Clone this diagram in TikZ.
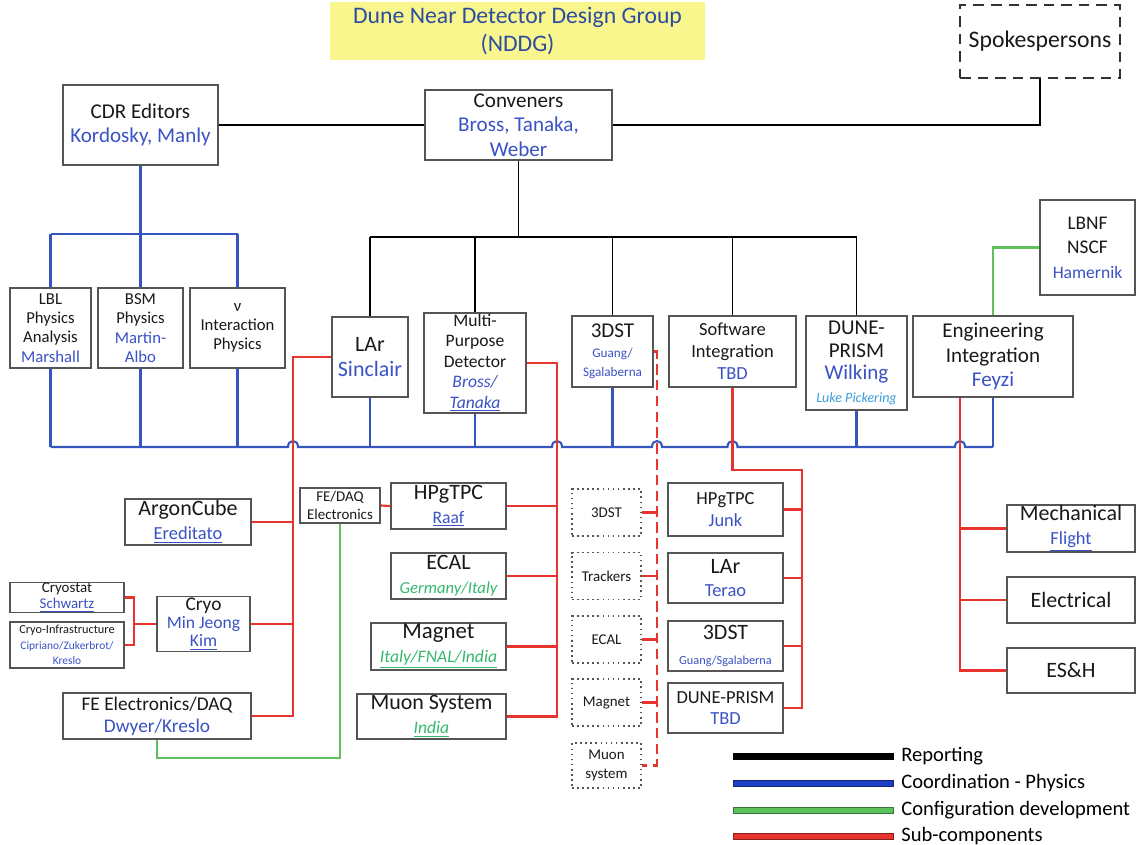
\documentclass[tikz,border=0pt]{standalone}
\usepackage{fontspec}
\setmainfont{Carlito}
\usepackage{tikz}
\definecolor{LineBlue}{HTML}{3556BE}
\definecolor{LineRed}{HTML}{E8342F}
\definecolor{LineGreen}{HTML}{5DC15D}
\definecolor{NameBlue}{HTML}{3A52C4}
\definecolor{NameGreen}{HTML}{35B86E}
\definecolor{PickBlue}{HTML}{3A9FDD}
\definecolor{TitleBlue}{HTML}{2C4C9E}
\definecolor{TitleYellow}{HTML}{F9F68D}
\definecolor{BoxGray}{HTML}{555555}
\definecolor{LegBlue}{HTML}{1C3FC4}
\newcommand{\bname}[1]{\textcolor{NameBlue}{#1}}
\newcommand{\gname}[1]{\textcolor{NameGreen}{\itshape #1}}
\newcommand{\setfs}[2]{\fontsize{#1}{#2}\selectfont}

\begin{document}
\begin{tikzpicture}[x=0.02cm, y=-0.02cm,
  box/.style={draw=BoxGray, line width=0.9pt, fill=white, align=center, inner sep=0.5pt, text=black!90},
  dotbox/.style={box, dotted, line width=0.8pt},
  sz/.style 2 args={minimum width=#1cm, minimum height=#2cm},
  reportline/.style={line width=1.1pt, black},
  physline/.style={line width=1.2pt, LineBlue},
  subline/.style={line width=1.2pt, LineRed},
  redDash/.style={line width=1.5pt, dash pattern=on 6pt off 3pt},
  confline/.style={line width=1.2pt, LineGreen}]
  \useasboundingbox (0,0) rectangle (1137,845);

  % title and top level
  \node[fill=TitleYellow, text=TitleBlue, minimum width=7.5cm, minimum height=1.04cm, align=center, font=\setfs{13.5}{15.5}] (title) at (517.5,31) {Dune Near Detector Design Group\\(NDDG)};
  \node[box, dash pattern=on 6pt off 4pt, draw=black!80, sz={3.2}{1.46}, font=\setfs{13.5}{16}] (spokes) at (1040,41.5) {Spokespersons};
  \node[box, sz={3.1}{1.6}, font=\setfs{12}{13.5}] (cdr) at (140.5,125) {CDR Editors\\\bname{Kordosky, Manly}};
  \node[box, sz={3.74}{1.4}, font=\setfs{12}{14}] (conv) at (518.5,125) {Conveners\\\bname{Bross, Tanaka,}\\\bname{Weber}};
  \node[box, sz={1.9}{1.9}, font=\setfs{11}{14}] (lbnf) at (1087.5,247.5) {LBNF\\NSCF\\\bname{\setfs{10}{14}Hamernik}};

  % working groups
  \node[box, sz={1.62}{1.6}, font=\setfs{9.5}{11}] (lbl) at (50.5,328) {LBL\\Physics\\Analysis\\\bname{Marshall}};
  \node[box, sz={1.7}{1.6}, font=\setfs{9.5}{11}] (bsm) at (140.5,328) {BSM\\Physics\\\bname{Martin-}\\\bname{Albo}};
  \node[box, sz={1.9}{1.6}, font=\setfs{9.5}{11}] (nu) at (237.5,328) {ν\\Interaction\\Physics};
  \node[box, sz={1.52}{1.6}, font=\setfs{12.5}{14}] (lar) at (370,357) {LAr\\\bname{Sinclair}};
  \node[box, sz={2.04}{2.0}, font=\setfs{10}{11.6}] (mpd) at (475,363) {Multi-\\Purpose\\Detector\\\bname{\itshape Bross/}\\\bname{\itshape\underline{Tanaka}}};
  \node[box, sz={1.62}{1.42}, font=\setfs{7.5}{11}] (dst) at (612.5,351.5) {{\setfs{12}{14}3DST}\\\bname{Guang/}\\\bname{Sgalaberna}};
  \node[box, sz={2.54}{1.42}, font=\setfs{10.5}{12.5}] (sw) at (732.5,351.5) {Software\\Integration\\\bname{TBD}};
  \node[box, sz={2.02}{1.88}, font=\setfs{12}{13}] (prism) at (856.5,363) {DUNE-\\PRISM\\\bname{Wilking}\\\textcolor{PickBlue}{\setfs{8}{10}\itshape Luke Pickering}};
  \node[box, sz={3.2}{1.62}, font=\setfs{12}{14}] (eng) at (993,356.5) {Engineering\\Integration\\\bname{Feyzi}};

  % LAr sub-components
  \node[box, sz={2.52}{0.92}, font=\setfs{12.5}{13.5}] (argon) at (188,522) {ArgonCube\\\bname{\setfs{10.5}{13}\underline{Ereditato}}};
  \node[box, sz={1.6}{0.7}, font=\setfs{8.5}{10}] (fedaq) at (340,505.5) {FE/DAQ\\Electronics};
  \node[box, sz={2.28}{0.58}, inner sep=0pt, font=\setfs{8.5}{9.5}] (cstat) at (67,597.5) {Cryostat\\\bname{\underline{Schwartz}}};
  \node[box, sz={2.28}{0.92}, font=\setfs{7}{9}] (cinfra) at (67,645) {Cryo-Infrastructure\\\bname{\setfs{6.5}{9}Cipriano/Zukerbrot/}\\\bname{\setfs{6.5}{9}Kreslo}};
  \node[box, sz={1.86}{1.04}, font=\setfs{10}{10.5}] (cryo) at (203.5,624) {{\setfs{11}{12}Cryo}\\\bname{Min Jeong}\\\bname{\underline{Kim}}};
  \node[box, sz={3.76}{0.92}, font=\setfs{11}{12.5}] (fe) at (157,716) {FE Electronics/DAQ\\\bname{Dwyer/Kreslo}};

  % MPD sub-components
  \node[box, sz={2.3}{0.92}, font=\setfs{12.5}{13.5}] (hpg) at (448.5,506) {HPgTPC\\\bname{\setfs{10}{13}\underline{Raaf}}};
  \node[box, sz={2.3}{0.92}, font=\setfs{12.5}{13.5}] (ecal) at (448.5,576) {ECAL\\\gname{\setfs{9.5}{13}Germany/Italy}};
  \node[box, sz={2.7}{0.94}, font=\setfs{13}{13.5}] (magnet) at (438.5,646.5) {Magnet\\\gname{\setfs{10}{13}\underline{Italy/FNAL/India}}};
  \node[box, sz={2.98}{0.9}, font=\setfs{12.5}{13.5}] (muon) at (431.5,716.5) {Muon System\\\gname{\setfs{10}{13}\underline{India}}};

  % 3DST sub-components
  \foreach \n/\y/\t in {d3dst/512.5/3DST, dtrk/576/Trackers, decal/639.5/ECAL, dmag/702.5/Magnet}
    \node[dotbox, sz={1.38}{0.94}, font=\setfs{8.5}{11}] (\n) at (606.5,\y) {\t};
  \node[dotbox, sz={1.38}{0.9}, font=\setfs{8.5}{11}] (dmuon) at (606.5,765.5) {Muon\\system};

  % software sub-components
  \node[box, sz={2.3}{1.06}, font=\setfs{10.5}{12.5}] (shpg) at (725.5,509.5) {HPgTPC\\\bname{Junk}};
  \node[box, sz={2.3}{1.0}, font=\setfs{12.5}{13.5}] (slar) at (725.5,578) {LAr\\\bname{\setfs{10.5}{13}Terao}};
  \node[box, sz={2.3}{1.0}, font=\setfs{12.5}{14}] (sdst) at (725.5,646) {3DST\\\bname{\setfs{7}{14}Guang/Sgalaberna}};
  \node[box, sz={2.3}{1.0}, font=\setfs{10.5}{12.5}] (sprism) at (725.5,708) {DUNE-PRISM\\\bname{TBD}};

  % engineering sub-components
  \node[box, sz={2.56}{0.94}, font=\setfs{12.5}{13.5}] (mech) at (1071,528.5) {Mechanical\\\bname{\setfs{10.5}{13}\underline{Flight}}};
  \node[box, sz={2.56}{0.92}, font=\setfs{12.5}{14}] (elec) at (1071,600) {Electrical};
  \node[box, sz={2.56}{0.9}, font=\setfs{12.5}{14}] (esh) at (1071,670.5) {ES\&H};

  % reporting
  \coordinate (rbus) at (0,237);
  \draw[reportline] (cdr.east) -- (conv.west);
  \draw[reportline] (conv.east) -| (spokes.south);
  \draw[reportline] (conv.south) -- (conv.south |- rbus);
  \draw[reportline] (lar.north |- rbus) -- (prism.north |- rbus);
  \foreach \n in {lar,mpd,dst,sw,prism}
    \draw[reportline] (\n.north) -- (\n.north |- rbus);

  % coordination - physics
  \coordinate (cbus) at (0,234);
  \coordinate (bbus) at (0,447);
  \draw[physline] (cdr.south) -- (cdr.south |- cbus);
  \draw[physline] (lbl.north |- cbus) -- (nu.north |- cbus);
  \foreach \n in {lbl,bsm,nu}
    \draw[physline] (\n.north) -- (\n.north |- cbus);
  \foreach \n in {lbl,bsm,nu,lar,mpd,dst,prism,eng}
    \draw[physline] (\n.south) -- (\n.south |- bbus);
  % hops where the red lines pass
  \draw[physline] (lbl.south |- bbus)
    \foreach \h in {293,557,657,732.5,960}{ -- (\h-5,447) .. controls (\h-5,439) and (\h+5,439) .. (\h+5,447)}
    -- (eng.south |- bbus);

  % configuration development
  \coordinate (gB) at (0,758);
  \draw[confline] (lbnf.west) -| (eng.north);
  \draw[confline] (fedaq.south) -- (fedaq.south |- gB) -| (fe.south);

  % sub-components
  \coordinate (tA) at (293,0);
  \coordinate (tB) at (557,0);
  \coordinate (tC) at (134,0);
  \coordinate (tD) at (657,0);
  \coordinate (tE) at (802,470);
  \coordinate (tF) at (960,0);
  \draw[subline] (lar.west) -| (tA |- fe.east) -- (fe.east);
  \foreach \n in {argon,cryo}
    \draw[subline] (\n.east) -- (\n.east -| tA);
  \draw[subline] (cstat.east) -| (tC |- cinfra.east) -- (cinfra.east);
  \draw[subline] (cryo.west) -- (cryo.west -| tC);
  \draw[subline] (fedaq.east) -- (hpg.west);
  \draw[subline] (mpd.east) -| (tB |- muon.east) -- (muon.east);
  \foreach \n in {hpg,ecal,magnet}
    \draw[subline] (\n.east) -- (\n.east -| tB);
  \draw[subline, redDash] (dst.east) -| (tD |- dmuon.east) -- (dmuon.east);
  \foreach \n in {d3dst,dtrk,decal,dmag}
    \draw[subline] (\n.east) -- (\n.east -| tD);
  \draw[subline] (sw.south) |- (tE) -- (tE |- sprism.east) -- (sprism.east);
  \foreach \n in {shpg,slar,sdst}
    \draw[subline] (\n.east) -- (\n.east -| tE);
  \draw[subline] (eng.south -| tF) -- (tF |- esh.west) -- (esh.west);
  \foreach \n in {mech,elec}
    \draw[subline] (\n.west) -- (\n.west -| tF);

  % legend
  \foreach \y/\c/\t [count=\i] in {756/black/Reporting, 783/LegBlue/Coordination - Physics, 810/LineGreen/Configuration development, 836/LineRed/Sub-components}{
    \draw[draw=\c!60!black, fill=\c, line width=0.5pt] (733,\y-3) rectangle (893,\y+3);
    \node[anchor=west, font=\setfs{11.7}{14}, inner sep=0pt] (leg\i) at (901,\y) {\t};}
\end{tikzpicture}
\end{document}
